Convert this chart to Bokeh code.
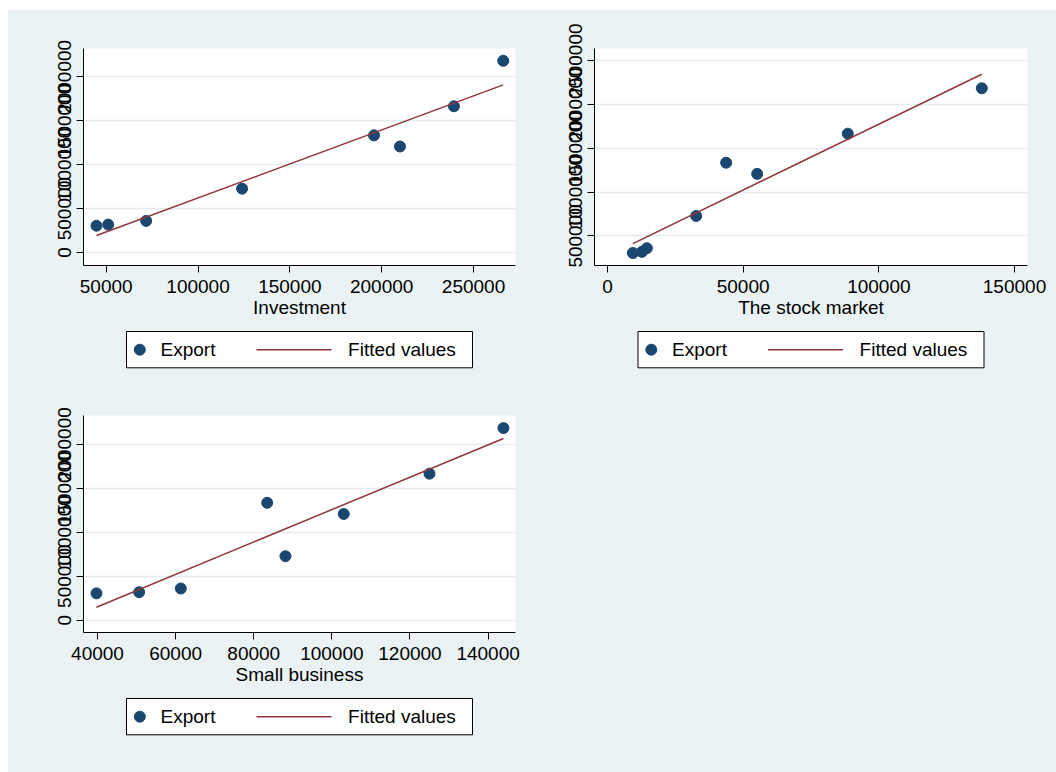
from bokeh.plotting import figure
from bokeh.models import Range1d, FixedTicker, BasicTickFormatter, Spacer
from bokeh.layouts import column, row
from bokeh.embed import file_html
from bokeh.resources import INLINE
from bokeh.core.properties import value

# ---------------- data ----------------
export = [305000, 318000, 360000, 727000, 1207000, 1334000, 1665000, 2183000]
investment = [44720, 51090, 71760, 123990, 209950, 195810, 239330, 266170]
stock_market = [9360, 12670, 14510, 32680, 55160, 43730, 88560, 137950]
small_business = [39740, 50660, 61330, 88120, 103040, 83440, 124990, 143930]

inv_fit_x = [44720, 266170]
inv_fit_y = [193000, 1909000]
stock_fit_x = [9360, 137950]
stock_fit_y = [412500, 2343000]
small_fit_x = [39740, 143930]
small_fit_y = [147700, 2065000]

inv_xticks = [50000, 100000, 150000, 200000, 250000]
stock_xticks = [0, 50000, 100000, 150000]
small_xticks = [40000, 60000, 80000, 100000, 120000, 140000]
yticks_a = [0, 500000, 1000000, 1500000, 2000000]
yticks_b = [500000, 1000000, 1500000, 2000000, 2500000]

x_titles = ["Investment", "The stock market", "Small business"]
legend_labels = ["Export", "Fitted values"]

# ---------------- style ----------------
BG = "#EAF2F3"
GRID = "#E4ECEF"
NAVY = "#1A476F"
MAROON = "#90353B"
FONT = "Liberation Sans"
FS = "19px"


def panel(x, fx, fy, xr, yr, xticks, yticks, xlabel, left, right, top, fw):
    p = figure(frame_width=fw, frame_height=217,
               x_range=Range1d(*xr), y_range=Range1d(*yr),
               min_border_left=left, min_border_right=right,
               min_border_top=top, min_border_bottom=60,
               output_backend="svg", toolbar_location=None)
    p.border_fill_color = BG
    p.background_fill_color = "white"
    p.outline_line_color = None
    p.xgrid.visible = False
    p.xaxis.ticker = FixedTicker(ticks=xticks)
    p.yaxis.ticker = FixedTicker(ticks=yticks)
    p.ygrid.ticker = FixedTicker(ticks=yticks)
    p.ygrid.grid_line_color = GRID
    p.ygrid.grid_line_width = 1.3
    for ax in (p.xaxis[0], p.yaxis[0]):
        ax.formatter = BasicTickFormatter(use_scientific=False)
        ax.major_label_text_font = FONT
        ax.major_label_text_font_size = FS
        ax.major_label_text_color = "black"
        ax.axis_line_color = "black"
        ax.axis_line_width = 1
        ax.major_tick_line_color = "black"
        ax.major_tick_out = 7
        ax.major_tick_in = 0
        ax.minor_tick_line_color = None
    p.xaxis.major_label_standoff = 7
    p.yaxis.major_label_standoff = 5
    p.yaxis.major_label_orientation = "vertical"
    p.xaxis.axis_label = xlabel
    p.xaxis.axis_label_text_font = FONT
    p.xaxis.axis_label_text_font_size = FS
    p.xaxis.axis_label_text_font_style = "normal"
    p.xaxis.axis_label_text_color = "black"
    p.xaxis.axis_label_standoff = 1
    p.scatter(x, export, size=11, color=NAVY, line_color=NAVY)
    p.line(fx, fy, color=MAROON, line_width=1.5)
    return p


def legend_fig(fw, h, left, right):
    # frame aligned with the plot above; coordinates are frame pixels
    lf = figure(frame_width=fw, frame_height=h,
                x_range=Range1d(0, fw), y_range=Range1d(h, 0),
                x_axis_type=None, y_axis_type=None,
                min_border_left=left, min_border_right=right,
                min_border_top=0, min_border_bottom=0,
                output_backend="svg", toolbar_location=None)
    lf.outline_line_color = None
    lf.background_fill_color = BG
    lf.border_fill_color = BG
    top = 6
    bl = fw / 2 - 173
    mid = top + 18.2
    lf.quad(left=[bl], right=[bl + 346], top=[top], bottom=[top + 36.3],
            fill_color="white", line_color="black", line_width=1)
    lf.scatter([bl + 13.3], [mid], size=11, color=NAVY, line_color=NAVY)
    lf.line([bl + 130, bl + 205], [mid, mid], color=MAROON, line_width=1.5)
    lf.text(x=[bl + 34, bl + 221.6], y=[mid, mid], text=legend_labels,
            text_font=value(FONT), text_font_size=FS, text_color="black",
            text_align="left", text_baseline="middle")
    return lf


p1 = panel(investment, inv_fit_x, inv_fit_y, (37650, 272850), (-147700, 2322700),
           inv_xticks, yticks_a, x_titles[0], 75, 17, 38, 432)
p2 = panel(stock_market, stock_fit_x, stock_fit_y, (-4790, 154790), (162500, 2636000),
           stock_xticks, yticks_b, x_titles[1], 62, 29, 38, 433)
p3 = panel(small_business, small_fit_x, small_fit_y, (36420, 147010), (-140000, 2326000),
           small_xticks, yticks_a, x_titles[2], 75, 17, 24, 432)

l1 = legend_fig(432, 66, 75, 17)
l2 = legend_fig(433, 66, 62, 29)
l3 = legend_fig(432, 80, 75, 17)

empty = Spacer(width=524, height=381, styles={"background-color": BG})

grid = column(
    row(column(p1, l1, spacing=0), column(p2, l2, spacing=0), spacing=0),
    row(column(p3, l3, spacing=0), empty, spacing=0),
    spacing=0,
    styles={"background-color": BG},
)

layout = column(
    Spacer(width=1056, height=10),
    row(Spacer(width=8, height=762), grid, spacing=0),
    spacing=0,
)

open("out.html", "w").write(file_html(layout, INLINE))
